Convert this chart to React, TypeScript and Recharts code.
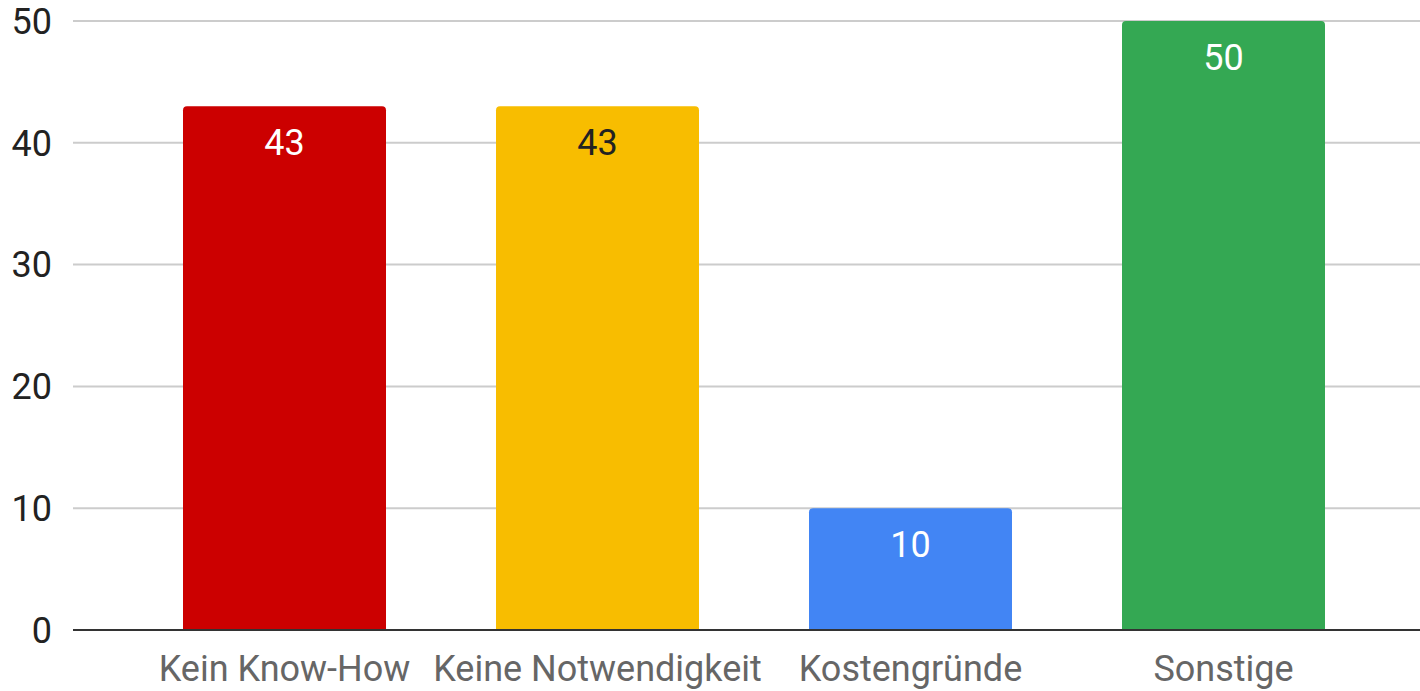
import { BarChart, Bar, XAxis, YAxis, CartesianGrid, Cell, LabelList } from "recharts"

const categories = ['Kein Know-How', 'Keine Notwendigkeit', 'Kostengründe', 'Sonstige']
const values = [43, 43, 10, 50]
const barColors = ['#cc0000', '#f8bd00', '#4285f4', '#34a853']
const labelColors = ['#ffffff', '#222222', '#ffffff', '#ffffff']
const yTicks = [0, 10, 20, 30, 40, 50]

const data = categories.map((name, i) => ({ name, value: values[i] }))

const FONT = 'Roboto, "Noto Sans", sans-serif'

function BarValueLabel(props: any) {
  const { x, y, width, value, index } = props
  return (
    <text
      x={x + width / 2}
      y={y + 23}
      dy="0.71em"
      textAnchor="middle"
      fill={labelColors[index % labelColors.length]}
      fontSize={36}
      fontFamily={FONT}
    >
      {value}
    </text>
  )
}

function App() {
  return (
    <div style={{ position: 'absolute', left: 0, top: 0, background: '#fff' }}>
      <BarChart width={1420} height={691} data={data} margin={{ top: 21, right: 0, left: 0, bottom: 0 }}>
        <CartesianGrid vertical={false} stroke="#cccccc" strokeWidth={2} />
        <XAxis
          dataKey="name"
          height={61}
          padding={{ left: 55, right: 40 }}
          axisLine={{ stroke: '#333333', strokeWidth: 2 }}
          tickLine={false}
          tickSize={0}
          tickMargin={25}
          tick={{ fill: '#666666', fontSize: 36, fontFamily: FONT }}
          interval={0}
        />
        <YAxis
          width={73}
          domain={[0, 50]}
          ticks={yTicks}
          axisLine={false}
          tickLine={false}
          tickSize={0}
          tickMargin={21}
          tick={{ fill: '#222222', fontSize: 36, fontFamily: FONT }}
        />
        <Bar dataKey="value" barSize={203} radius={[4, 4, 0, 0]} isAnimationActive={false}>
          {data.map((_, i) => (
            <Cell key={i} fill={barColors[i % barColors.length]} />
          ))}
          <LabelList dataKey="value" content={<BarValueLabel />} />
        </Bar>
      </BarChart>
    </div>
  )
}

export default App
